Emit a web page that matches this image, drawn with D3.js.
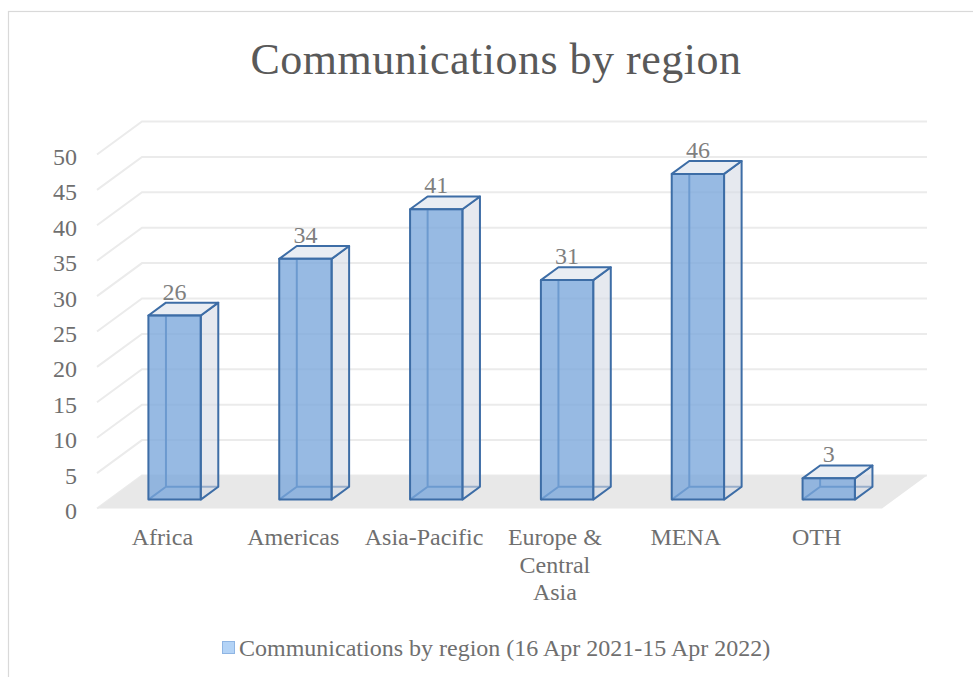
<!DOCTYPE html>
<html>
<head>
<meta charset="utf-8">
<script src="https://cdn.jsdelivr.net/npm/d3@7"></script>
<style>
	html, body { margin: 0; padding: 0; background: #fff; }
	svg { display: block; font-family: 'Liberation Serif', 'Times New Roman', serif; }
</style>
</head>
<body>
<div id="chart"></div>
<script>
const title = 'Communications by region';
const seriesName = 'Communications by region (16 Apr 2021-15 Apr 2022)';
const categories = ['Africa', 'Americas', 'Asia-Pacific', 'Europe & Central Asia', 'MENA', 'OTH'];
const categoryLines = [['Africa'], ['Americas'], ['Asia-Pacific'], ['Europe &', 'Central', 'Asia'], ['MENA'], ['OTH']];
const values = [26, 34, 41, 31, 46, 3];
const yTicks = [0, 5, 10, 15, 20, 25, 30, 35, 40, 45, 50];

/* Function: Bar3D
 *
 * clustered 3d column chart, drawn as a simple oblique projection
 * */
function Bar3D(){
	const self = {
		_width: 973,
		_height: 677,
		_floorY: 508.5,
		_left: 97,
		_right: 882,
		_depth: [45, -33],   // wall depth offset on screen
		_barFront: 0.27,     // bar depth range, fraction of wall depth
		_barBack: 0.66,
		_stroke: '#3d6da6',
		_fontSize: 24,
	};

	function _init(){
		self.render = _render;
		return self;
	}

	// oblique projection: x on the front plane, value, depth fraction
	function _proj(x, v, z){
		return [x + z*self._depth[0], self._y(v) + z*self._depth[1]];
	}

	function _renderFrame(svg){
		svg.append('rect')
			.attr('x', 8.5).attr('y', 11.5)
			.attr('width', 1000).attr('height', 700)
			.attr('fill', 'none')
			.attr('stroke', '#d9d9d9')
			.attr('stroke-width', 1.2);

		svg.append('text')
			.attr('x', 496)
			.attr('y', 74)
			.attr('text-anchor', 'middle')
			.attr('font-size', 44)
			.attr('fill', '#595959')
			.attr('letter-spacing', 0.5)
			.text(title);
	}

	function _renderWalls(svg){
		const [dx, dy] = self._depth,
			backRight = self._right + dx;

		svg.append('g').attr('class', 'grid')
			.selectAll('path')
			.data(yTicks)
			.join('path')
				.attr('d', v=>{
					const y = self._y(v);
					return `M${self._left},${y}L${self._left + dx},${y + dy}L${backRight},${y + dy}`;
				})
				.attr('fill', 'none')
				.attr('stroke', '#ebebeb')
				.attr('stroke-width', 2);

		// floor
		const y0 = self._y(0);
		svg.append('path')
			.attr('d', `M${self._left},${y0}L${self._right},${y0}L${backRight},${y0 + dy}L${self._left + dx},${y0 + dy}Z`)
			.attr('fill', '#e8e8e8');

		svg.append('g').attr('class', 'yticks')
			.selectAll('text')
			.data(yTicks)
			.join('text')
				.attr('x', 77)
				.attr('y', v=>self._y(v) + 2)
				.attr('dy', '0.35em')
				.attr('text-anchor', 'end')
				.attr('font-size', self._fontSize)
				.attr('fill', '#6f6f6f')
				.text(d=>d);
	}

	function _renderBars(svg){
		const x = self._x,
			bw = x.bandwidth(),
			zf = self._barFront,
			zb = self._barBack,
			line = pts=>'M' + pts.map(p=>p.join(',')).join('L'),
			face = pts=>line(pts) + 'Z';

		const g = svg.append('g').attr('class', 'bars')
			.selectAll('g')
			.data(categories.map((c, i)=>({name: c, value: values[i]})))
			.join('g');

		g.each(function(d){
			const x0 = x(d.name), x1 = x0 + bw, v = d.value,
				sel = d3.select(this),
				p = (xx, vv, zz)=>_proj(xx, vv, zz);

			// hidden edges, seen through the faces
			sel.append('path')
				.attr('d', line([p(x0, v, zb), p(x0, 0, zb), p(x1, 0, zb)]) + line([p(x0, 0, zf), p(x0, 0, zb)]))
				.attr('fill', 'none')
				.attr('stroke', self._stroke)
				.attr('stroke-width', 2);

			// right side
			sel.append('path')
				.attr('d', face([p(x1, 0, zf), p(x1, 0, zb), p(x1, v, zb), p(x1, v, zf)]))
				.attr('fill', '#d5dbe5')
				.attr('fill-opacity', 0.6)
				.attr('stroke', self._stroke)
				.attr('stroke-width', 2)
				.attr('stroke-linejoin', 'round');

			// top
			sel.append('path')
				.attr('d', face([p(x0, v, zf), p(x1, v, zf), p(x1, v, zb), p(x0, v, zb)]))
				.attr('fill', '#e9edf3')
				.attr('stroke', self._stroke)
				.attr('stroke-width', 2)
				.attr('stroke-linejoin', 'round');

			// front
			sel.append('path')
				.attr('d', face([p(x0, 0, zf), p(x1, 0, zf), p(x1, v, zf), p(x0, v, zf)]))
				.attr('fill', '#7aa6db')
				.attr('fill-opacity', 0.78)
				.attr('stroke', self._stroke)
				.attr('stroke-width', 2)
				.attr('stroke-linejoin', 'round');

			const top = p(x0 + bw/2, v, zb);
			sel.append('text')
				.attr('x', p(x0 + bw/2, v, zf)[0])
				.attr('y', top[1] - 3)
				.attr('text-anchor', 'middle')
				.attr('font-size', self._fontSize)
				.attr('fill', '#7f7f7f')
				.text(v);
		});
	}

	function _renderCategoryAxis(svg){
		const x = self._x;
		svg.append('g').attr('class', 'xlabels')
			.selectAll('text')
			.data(categories)
			.join('text')
				.attr('x', c=>x(c) + x.bandwidth()/2)
				.attr('y', 545)
				.attr('text-anchor', 'middle')
				.attr('font-size', self._fontSize)
				.attr('fill', '#6f6f6f')
				.each(function(c, i){
					d3.select(this).selectAll('tspan')
						.data(categoryLines[i])
						.join('tspan')
							.attr('x', x(c) + x.bandwidth()/2)
							.attr('dy', (t, j)=>j ? 27.5 : 0)
							.text(t=>t);
				});
	}

	function _renderLegend(svg){
		const g = svg.append('g').attr('class', 'legend');
		g.append('rect')
			.attr('x', 222.5).attr('y', 641.5)
			.attr('width', 12).attr('height', 12)
			.attr('fill', '#b3d3f6')
			.attr('stroke', '#8fb5e3')
			.attr('stroke-width', 1);
		g.append('text')
			.attr('x', 239)
			.attr('y', 656)
			.attr('font-size', self._fontSize)
			.attr('fill', '#6f6f6f')
			.text(seriesName);
	}

	function _render(container){
		self._x = d3.scaleBand()
			.domain(categories)
			.range([self._left, self._right])
			.paddingInner(0.6)
			.paddingOuter(0.3);
		self._y = d3.scaleLinear()
			.domain([0, 50])
			.range([self._floorY, 154.5]);

		const svg = d3.select(container).append('svg')
			.attr('width', self._width)
			.attr('height', self._height);

		_renderFrame(svg);
		_renderWalls(svg);
		_renderBars(svg);
		_renderCategoryAxis(svg);
		_renderLegend(svg);
	}

	return _init();
}

Bar3D().render(document.getElementById('chart'));
</script>
</body>
</html>
